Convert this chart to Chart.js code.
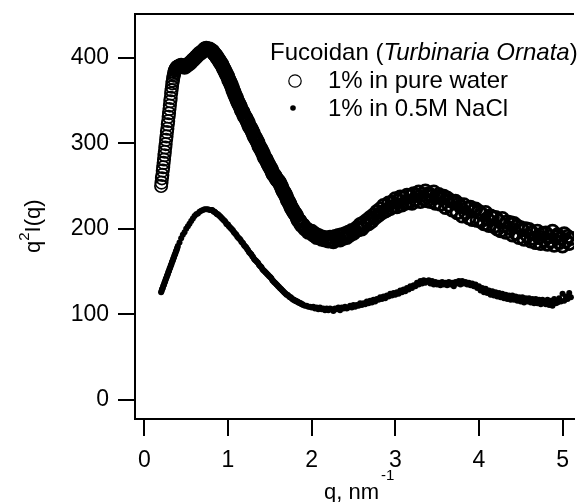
<!DOCTYPE html>
<html lang="en">
<head>
    <meta charset="UTF-8">
    <title>Fucoidan (Turbinaria Ornata) q2I(q)</title>
    <style>
        html, body { margin: 0; padding: 0; background: #fff; }
        #wrap { width: 583px; height: 502px; }
    </style>
</head>
<body>

    <div id="wrap"><canvas id="myChart" width="583" height="502"></canvas></div>

    <script src="https://cdn.jsdelivr.net/npm/chart.js@4/dist/chart.umd.min.js"></script>
    <script>

        // q values (nm^-1), shared by both curves
        const qValues = [
            0.200,0.205,0.210,0.215,0.220,0.225,0.230,0.235,0.240,0.245,
            0.250,0.255,0.260,0.265,0.270,0.275,0.280,0.285,0.290,0.295,
            0.300,0.305,0.310,0.315,0.320,0.325,0.330,0.335,0.340,0.345,
            0.350,0.355,0.360,0.365,0.370,0.375,0.380,0.385,0.390,0.395,
            0.40,0.42,0.44,0.46,0.48,0.50,0.52,0.54,0.56,0.58,
            0.60,0.62,0.64,0.66,0.68,0.70,0.72,0.74,0.76,0.78,
            0.80,0.81,0.82,0.83,0.84,0.85,0.86,0.87,0.88,0.89,
            0.90,0.91,0.92,0.93,0.94,0.95,0.96,0.97,0.98,0.99,
            1.00,1.01,1.02,1.03,1.04,1.05,1.06,1.07,1.08,1.09,
            1.10,1.11,1.12,1.13,1.14,1.15,1.16,1.17,1.18,1.19,
            1.20,1.21,1.22,1.23,1.24,1.25,1.26,1.27,1.28,1.29,
            1.30,1.31,1.32,1.33,1.34,1.35,1.36,1.37,1.38,1.39,
            1.40,1.41,1.42,1.43,1.44,1.45,1.46,1.47,1.48,1.49,
            1.50,1.51,1.52,1.53,1.54,1.55,1.56,1.57,1.58,1.59,
            1.60,1.61,1.62,1.63,1.64,1.65,1.66,1.67,1.68,1.69,
            1.70,1.71,1.72,1.73,1.74,1.75,1.76,1.77,1.78,1.79,
            1.80,1.81,1.82,1.83,1.84,1.85,1.86,1.87,1.88,1.89,
            1.90,1.92,1.94,1.96,1.98,
            2.00,2.02,2.04,2.06,2.08,2.10,2.12,2.14,2.16,2.18,
            2.20,2.22,2.24,2.26,2.28,2.30,2.32,2.34,2.36,2.38,
            2.40,2.42,2.44,2.46,2.48,2.50,2.52,2.54,2.56,2.58,
            2.60,2.62,2.64,2.66,2.68,2.70,2.72,2.74,2.76,2.78,
            2.80,2.82,2.84,2.86,2.88,2.90,2.92,2.94,2.96,2.98,
            3.00,3.02,3.04,3.06,3.08,3.10,3.12,3.14,3.16,3.18,
            3.20,3.22,3.24,3.26,3.28,3.30,3.32,3.34,3.36,3.38,
            3.40,3.42,3.44,3.46,3.48,3.50,3.52,3.54,3.56,3.58,
            3.60,3.62,3.64,3.66,3.68,3.70,3.72,3.74,3.76,3.78,
            3.80,3.82,3.84,3.86,3.88,3.90,3.92,3.94,3.96,3.98,
            4.00,4.02,4.04,4.06,4.08,4.10,4.12,4.14,4.16,4.18,
            4.20,4.22,4.24,4.26,4.28,4.30,4.32,4.34,4.36,4.38,
            4.40,4.42,4.44,4.46,4.48,4.50,4.52,4.54,4.56,4.58,
            4.60,4.62,4.64,4.66,4.68,4.70,4.72,4.74,4.76,4.78,
            4.80,4.82,4.84,4.86,4.88,4.90,4.92,4.94,4.96,4.98,
            5.00,5.02,5.04,5.06,5.08,5.10
        ];

        // 1% in pure water (open circles)
        const waterValues = [
            250,254,259,263,268,272,277,281,286,290,
            295,299,304,308,313,317,322,326,331,335,
            340,344,349,353,358,362,366,370,373,376,
            379,381,383,385,386,387,388,388,389,389,
            389,390,391,390,389,390,392,393,395,397,
            399,401,403,405,406,408,410,411,410,410,
            408,408,407,405,404,403,402,400,399,397,
            396,394,393,391,389,387,385,383,381,379,
            377,374,372,370,368,365,362,360,357,355,
            353,350,348,346,344,342,339,337,336,333,
            331,330,328,326,324,321,319,318,316,314,
            312,309,307,306,304,302,300,297,295,294,
            292,290,288,285,283,282,280,278,276,274,
            272,271,269,266,264,263,262,260,258,257,
            256,255,253,251,249,246,244,243,241,239,
            237,234,232,231,229,226,224,223,221,219,
            218,217,215,212,210,210,209,206,204,205,
            204,200,200,196,197,
            197,193,194,190,192,191,188,190,187,189,
            186,190,187,185,191,188,192,187,193,189,
            194,190,196,193,198,195,197,201,199,205,
            200,207,204,210,206,213,209,216,213,220,
            216,223,219,227,221,222,230,224,231,226,
            235,226,233,237,228,236,230,239,231,238,
            230,241,234,239,243,232,240,235,244,233,
            241,232,238,243,230,237,240,229,236,238,
            225,236,228,233,222,231,232,219,229,226,
            215,228,219,224,213,225,211,221,223,210,
            220,209,217,206,219,212,204,215,213,203,
            213,200,209,198,212,204,196,208,201,207,
            193,206,195,203,190,201,199,188,200,192,
            199,186,195,189,184,197,190,183,194,187,
            195,182,191,186,197,181,190,193,184,189,
            180,194,186,191,183,189
        ];

        // 1% in 0.5M NaCl (small dots)
        const saltValues = [
            126,127,129,130,131,133,134,135,137,138,
            139,141,142,143,145,146,147,149,150,151,
            153,154,155,157,158,159,161,162,163,165,
            166,167,169,170,171,173,174,175,177,178,
            180,184,189,193,196,200,203,206,209,212,
            215,217,218,220,221,222,223,223,223,222,
            222,222,221,220,220,219,218,217,217,216,
            215,214,213,212,211,210,209,208,206,205,
            205,203,202,201,200,199,198,196,195,194,
            193,191,190,189,188,187,185,184,183,181,
            180,179,178,176,175,173,172,171,170,168,
            167,165,164,163,162,161,160,158,157,156,
            155,153,152,151,150,149,148,147,146,145,
            144,143,142,140,139,138,137,136,135,134,
            133,132,131,130,129,128,127,126,125,124,
            123,123,122,121,120,120,119,118,117,117,
            116,116,115,115,114,114,113,113,112,112,
            111,110,110,109,109,
            108,109,107,108,106,108,106,107,105,107,
            105,107,106,104,107,106,108,105,108,107,
            109,107,108,110,108,111,109,111,110,113,
            111,113,112,115,113,116,114,117,115,118,
            117,120,118,121,119,122,121,124,122,125,
            123,126,124,128,126,129,127,131,129,133,
            131,134,133,137,135,139,136,140,137,139,
            140,136,139,135,138,135,137,134,138,135,
            137,134,138,135,137,133,138,136,139,135,
            139,136,138,135,137,134,136,133,135,131,
            133,128,131,126,130,125,128,123,127,122,
            126,121,125,120,124,119,123,118,122,117,
            122,117,121,116,120,115,120,114,119,115,
            119,114,118,113,118,113,117,112,117,113,
            112,117,111,116,110,118,113,114,119,115,
            124,116,121,118,125,120
        ];

        const xTicks = [0, 1, 2, 3, 4, 5];
        const yTicks = [0, 100, 200, 300, 400];

        const FONT = '"Liberation Sans", Arial, Helvetica, sans-serif';

        // frame top line, legend and axis titles
        const extras = {
            id: 'extras',
            afterDraw(chart) {
                const ctx = chart.ctx;
                const area = chart.chartArea;
                ctx.save();

                ctx.strokeStyle = '#000';
                ctx.lineWidth = 2;
                ctx.beginPath();
                ctx.moveTo(area.left - 1, area.top);
                ctx.lineTo(area.right, area.top);
                ctx.stroke();

                ctx.fillStyle = '#000';
                ctx.textBaseline = 'alphabetic';
                ctx.textAlign = 'left';

                // legend title
                let x = 270;
                ctx.font = '24px ' + FONT;
                ctx.fillText('Fucoidan (', x, 60);
                x += ctx.measureText('Fucoidan (').width;
                ctx.font = 'italic 24px ' + FONT;
                ctx.fillText('Turbinaria Ornata', x, 60);
                x += ctx.measureText('Turbinaria Ornata').width;
                ctx.font = '24px ' + FONT;
                ctx.fillText(')', x, 60);

                // legend rows
                ctx.lineWidth = 1.2;
                ctx.beginPath();
                ctx.arc(295, 81, 6.2, 0, Math.PI * 2);
                ctx.stroke();
                ctx.beginPath();
                ctx.arc(293, 108, 2.8, 0, Math.PI * 2);
                ctx.fill();
                ctx.fillText('1% in pure water', 328, 88);
                ctx.fillText('1% in 0.5M NaCl', 328, 116);

                // x title with superscript
                ctx.font = '22px ' + FONT;
                ctx.fillText('q, nm', 324, 499);
                let w = ctx.measureText('q, nm').width;
                ctx.font = '15px ' + FONT;
                ctx.fillText('-1', 326 + w, 480);

                // y title, rotated
                ctx.translate(40, 253);
                ctx.rotate(-Math.PI / 2);
                ctx.font = '22px ' + FONT;
                ctx.fillText('q', 0, 0);
                w = ctx.measureText('q').width;
                ctx.font = '15px ' + FONT;
                ctx.fillText('2', w, -11);
                w += ctx.measureText('2').width;
                ctx.font = '22px ' + FONT;
                ctx.fillText('I(q)', w, 0);

                ctx.restore();
            }
        };

        const waterPoints = qValues.map((q, i) => ({ x: q, y: waterValues[i] }));
        const saltPoints = qValues.map((q, i) => ({ x: q, y: saltValues[i] }));

        const tickFont = { family: FONT, size: 23 };

        const ctx = document.getElementById('myChart').getContext('2d');
        const myChart = new Chart(ctx, {
            type: 'scatter',
            data: {
                datasets: [
                    {
                        label: '1% in pure water',
                        data: waterPoints,
                        pointStyle: 'circle',
                        pointRadius: 6.2,
                        // the real data is much denser past the rise, heavier rings stand in for that
                        borderWidth: c => (c.raw && c.raw.x < 0.4) ? 1.7 : 2.8,
                        borderColor: '#000',
                        backgroundColor: 'rgba(0,0,0,0)'
                    },
                    {
                        label: '1% in 0.5M NaCl',
                        data: saltPoints,
                        pointStyle: 'circle',
                        pointRadius: 3,
                        borderWidth: 0,
                        borderColor: '#000',
                        backgroundColor: '#000'
                    }
                ]
            },
            options: {
                responsive: false,
                animation: false,
                devicePixelRatio: 1,
                layout: { padding: { top: 14, left: 0, right: 0, bottom: 0 } },
                plugins: {
                    legend: { display: false },
                    tooltip: { enabled: false }
                },
                scales: {
                    x: {
                        type: 'linear',
                        min: -0.112,
                        max: 5.137,
                        afterBuildTicks: s => { s.ticks = xTicks.map(v => ({ value: v })); },
                        afterFit: s => { s.height = 83; s.paddingLeft = 0; s.paddingRight = 0; },
                        border: { display: true, color: '#000', width: 2 },
                        grid: { display: true, drawOnChartArea: false, drawTicks: true, tickLength: 17, tickWidth: 2, lineWidth: 2, tickColor: '#000', color: '#000' },
                        ticks: { color: '#000', font: tickFont, padding: 11, maxRotation: 0, autoSkip: false }
                    },
                    y: {
                        type: 'linear',
                        min: -22.2,
                        max: 451,
                        afterBuildTicks: s => { s.ticks = yTicks.map(v => ({ value: v })); },
                        afterFit: s => { s.width = 135; s.paddingTop = 0; s.paddingBottom = 0; },
                        border: { display: true, color: '#000', width: 2 },
                        grid: { display: true, drawOnChartArea: false, drawTicks: true, tickLength: 17, tickWidth: 2, lineWidth: 2, tickColor: '#000', color: '#000' },
                        ticks: { color: '#000', font: tickFont, padding: 9, autoSkip: false }
                    }
                }
            },
            plugins: [extras]
        });

    </script>

</body>
</html>
